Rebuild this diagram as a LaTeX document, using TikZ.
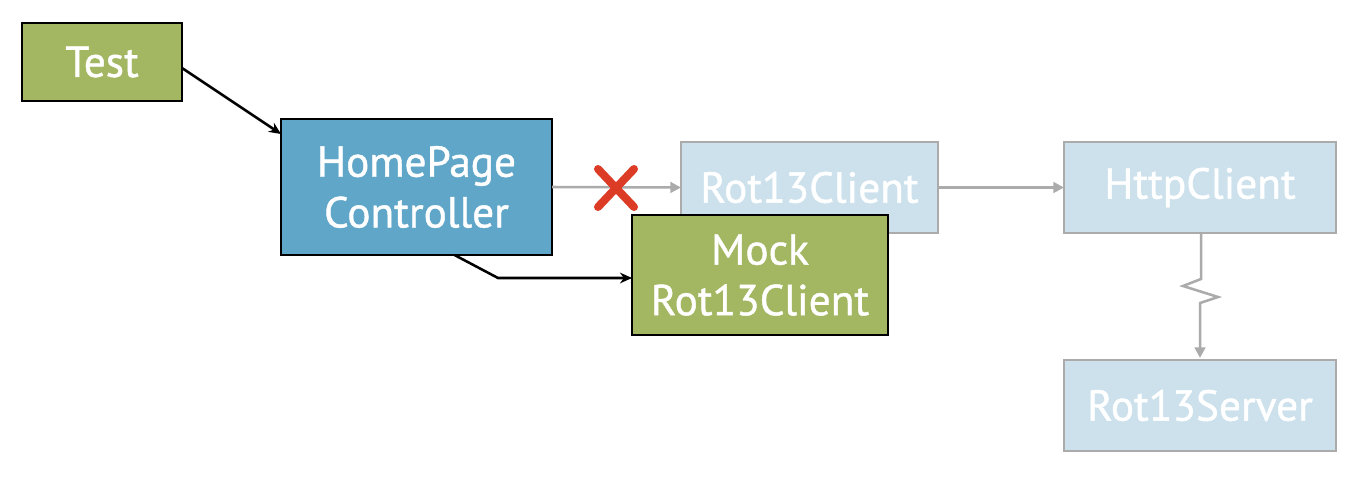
\documentclass[tikz,border=0pt]{standalone}
\usepackage{fontspec}
\setmainfont{PT Sans}
\newfontfamily\labelfont{PT Sans}[FakeBold=1.0,BoldFeatures={FakeBold=0}]
\usetikzlibrary{calc,arrows.meta}
\definecolor{boxgreen}{HTML}{A3B661}
\definecolor{boxblue}{HTML}{60A6C8}
\definecolor{boxlight}{HTML}{CCE1EC}
\definecolor{lightborder}{HTML}{ABABAB}
\definecolor{crossred}{HTML}{DC3B26}
\tikzset{
  base/.style={rectangle, inner sep=0pt, outer sep=0pt, text=white, align=center,
    font=\labelfont\fontsize{32.5}{38}\selectfont},
  greenbox/.style={base, fill=boxgreen, draw=black, line width=1.9pt},
  bluebox/.style={base, fill=boxblue, draw=black, line width=1.9pt},
  lightbox/.style={base, fill=boxlight, draw=lightborder, line width=1.6pt},
  blackarrow/.style={draw=black, line width=1.9pt, -{Stealth[length=9pt,width=8pt]}},
  grayarrow/.style={draw=lightborder, line width=1.9pt, -{Triangle[length=8pt,width=8pt]}},
}
\begin{document}
\begin{tikzpicture}[x=0.75pt,y=-0.75pt]
\useasboundingbox (0,0) rectangle (1358,478);
\node[greenbox, minimum width=160*0.75pt, minimum height=78*0.75pt] (t) at (102,62) {Test};
\node[bluebox, minimum width=271*0.75pt, minimum height=136*0.75pt] (h) at (416.5,187) {HomePage\\Controller};
\node[lightbox, minimum width=257*0.75pt, minimum height=91*0.75pt] (r) at (809.5,187.5) {Rot13Client};
\node[lightbox, minimum width=272*0.75pt, minimum height=91*0.75pt] (hc) at (1200,187.5) {HttpClient};
\node[lightbox, minimum width=272*0.75pt, minimum height=91*0.75pt] (rs) at (1200,405.5) {Rot13Server};
\node[greenbox, minimum width=256*0.75pt, minimum height=120*0.75pt] (m) at (760,275) {Mock\\Rot13Client};
% connectors
\draw[blackarrow] ($(t.east)+(0,6)$) -- ($(h.north west)+(0,15)$);
\draw[grayarrow] (h.east) -- (r.west);
\draw[grayarrow] (r.east) -- (hc.west);
\coordinate (bend) at (498,278);
\draw[blackarrow] ($(h.south)+(38,0)$) -- (bend) -- ($(m.west)+(0,3)$);
\coordinate (z1) at (1201,279);
\coordinate (z2) at (1183,286);
\coordinate (z3) at (1218,297);
\coordinate (z4) at (1200,303);
\draw[grayarrow] ($(hc.south)+(1,0)$) -- (z1) -- (z2) -- (z3) -- (z4) -- ($(rs.north)+(0,-2)$);
% red cross
\coordinate (xc) at (616,188);
\draw[crossred, line width=6pt, line cap=round] ($(xc)+(-18,-19)$) -- ($(xc)+(18,19)$);
\draw[crossred, line width=6pt, line cap=round] ($(xc)+(18,-19)$) -- ($(xc)+(-18,19)$);
\end{tikzpicture}
\end{document}
